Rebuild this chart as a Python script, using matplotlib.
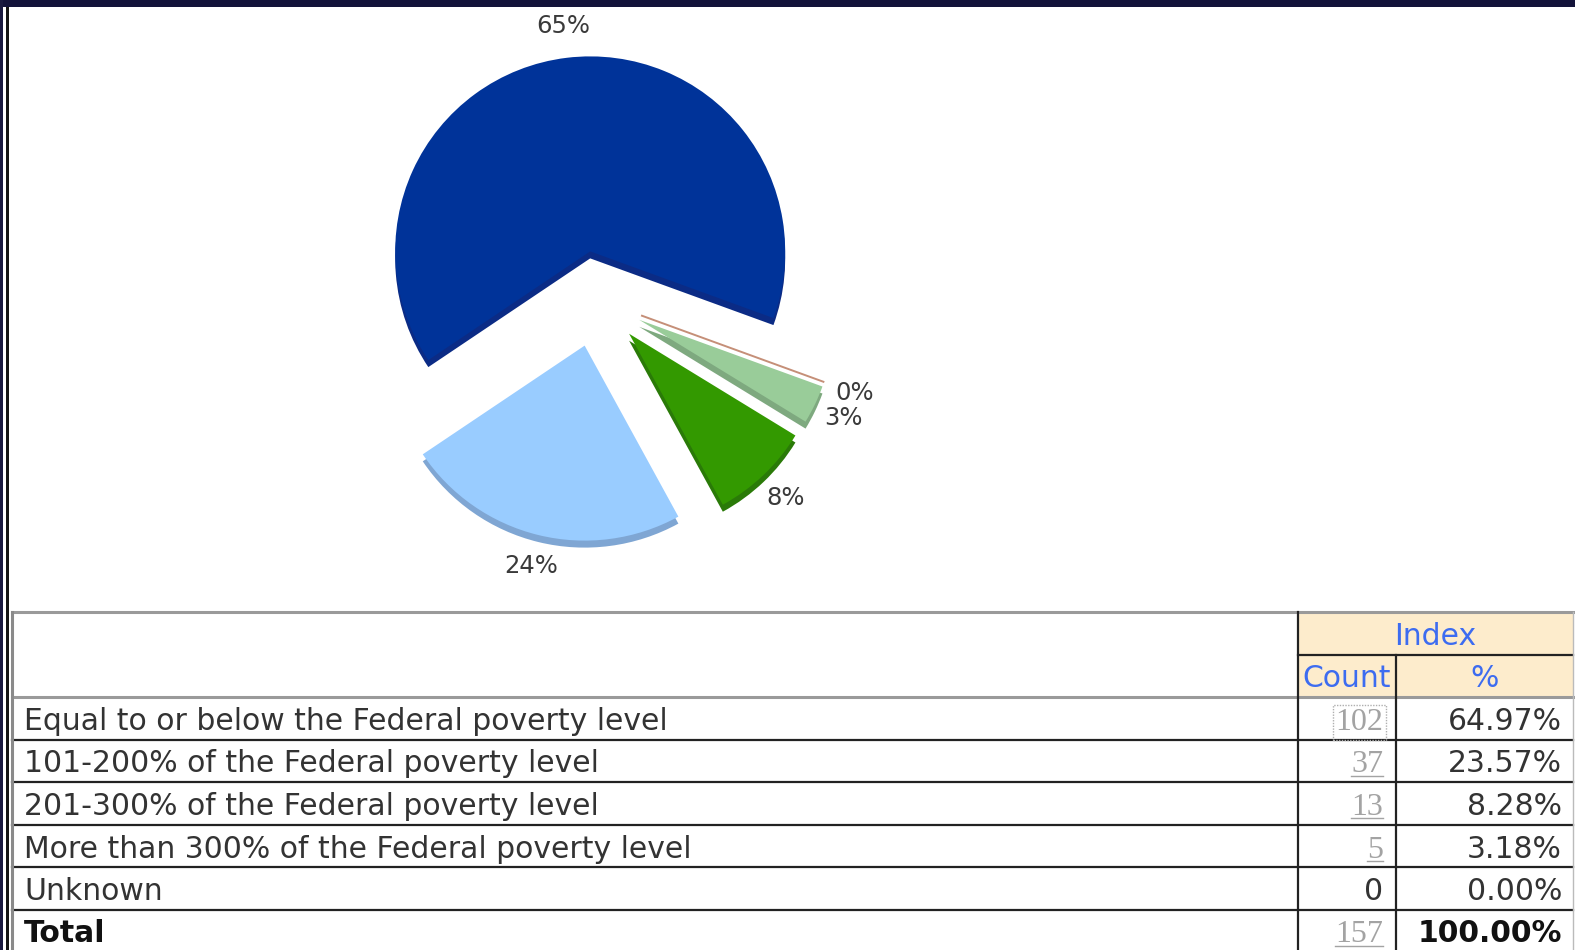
import matplotlib
matplotlib.use("Agg")
import matplotlib.pyplot as plt
from matplotlib.patches import Rectangle

# ---- data -------------------------------------------------------------
categories = [
    "Equal to or below the Federal poverty level",
    "101-200% of the Federal poverty level",
    "201-300% of the Federal poverty level",
    "More than 300% of the Federal poverty level",
    "Unknown",
]
counts = [102, 37, 13, 5, 0]
percents = [64.97, 23.57, 8.28, 3.18, 0.00]
total_label = "Total"
total_count = 157
total_percent = 100.00
header_group = "Index"
header_cols = ["Count", "%"]

# ---- styling ----------------------------------------------------------
W, H = 1575, 950
slice_colors = ["#003399", "#99CCFF", "#339900", "#99CC99", "#F2E6B8"]
rim_colors = ["#0B2B85", "#7FA6D3", "#2A7A08", "#7EA97F", "#F2E6B8"]
text_dark = "#333333"
link_grey = "#A3A3A3"
head_blue = "#3D6CF0"
head_fill = "#FDECCC"

fig = plt.figure(figsize=(W / 100, H / 100), dpi=100)
fig.patch.set_facecolor("white")

# full-page axes in pixel units (y grows downward)
ax = fig.add_axes([0, 0, 1, 1])
ax.set_xlim(0, W)
ax.set_ylim(H, 0)
ax.axis("off")

# window frame
ax.add_patch(Rectangle((0, 0), W, 7, color="#13133A", lw=0, zorder=5))
ax.add_patch(Rectangle((0, 0), 3, H, color="#1A1A40", lw=0, zorder=5))
ax.add_patch(Rectangle((5.5, 7), 3.5, H, color="#151515", lw=0, zorder=5))

# ---- pie --------------------------------------------------------------
cx, cy, R = 596, 299, 195          # pie centre / radius in pixels
L = 1.6                            # half-extent of pie axes in radius units
half = L * R
pax = fig.add_axes([(cx - half) / W, (H - cy - half) / H, 2 * half / W, 2 * half / H])
pax.patch.set_visible(False)

explode = [0.246] * len(counts)
start = -20

# darker copy slightly lower gives the raised-edge look
rim_w, _ = pax.pie(counts, colors=rim_colors, explode=explode, startangle=start,
                   counterclock=True, radius=1, center=(0, -7 / R),
                   wedgeprops=dict(linewidth=0))
rim_w[-1].set_visible(False)

wedges, _, pct_texts = pax.pie(
    counts, colors=slice_colors, explode=explode, startangle=start,
    counterclock=True, radius=1, autopct="%.0f%%", pctdistance=1.164,
    wedgeprops=dict(linewidth=0),
    textprops=dict(fontsize=17.5, color="#3A3A3A", family="DejaVu Sans"))
wedges[-1].set_edgecolor("#C58F78")
wedges[-1].set_linewidth(1.4)
pax.set_xlim(-L, L)
pax.set_ylim(-L, L)
pax.axis("off")

# ---- table ------------------------------------------------------------
t_left, t_right = 12, 1573
c1, c2 = 1298, 1396
y_top, y_mid, y_head = 612, 655, 697
row_h = 42.5
fs = 21.5
base_off = 33

n_rows = len(categories) + 1
row_tops = [y_head + i * row_h for i in range(n_rows + 1)]

# header fills
ax.add_patch(Rectangle((c1, y_top), t_right - c1, y_head - y_top, color=head_fill, lw=0, zorder=1))

dark_lw = 1.6
grey_lw = 2.2
ax.plot([t_left, t_right], [y_top, y_top], color="#9A9A9A", lw=grey_lw, zorder=3)
ax.plot([t_left, t_right], [y_head, y_head], color="#9A9A9A", lw=grey_lw, zorder=3)
ax.plot([c1, t_right], [y_mid, y_mid], color="#222222", lw=dark_lw, zorder=3)
for yy in row_tops[1:-1]:
    ax.plot([t_left, t_right], [yy, yy], color="#222222", lw=dark_lw, zorder=3)
ax.plot([t_left, t_left], [y_top, H], color="#8A8A8A", lw=grey_lw, zorder=3)
ax.plot([c1, c1], [y_top, H], color="#222222", lw=dark_lw, zorder=3)
ax.plot([c2, c2], [y_mid, H], color="#222222", lw=dark_lw, zorder=3)
ax.plot([t_right, t_right], [y_top, H], color="#BBBBBB", lw=1.0, zorder=3)

# header text
ax.text((c1 + t_right) / 2, y_top + base_off, header_group, ha="center", va="baseline",
        fontsize=fs, color=head_blue, family="DejaVu Sans", zorder=4)
ax.text((c1 + c2) / 2, y_mid + base_off - 1, header_cols[0], ha="center", va="baseline",
        fontsize=fs, color=head_blue, family="DejaVu Sans", zorder=4)
ax.text((c2 + t_right) / 2, y_mid + base_off - 1, header_cols[1], ha="center", va="baseline",
        fontsize=fs, color=head_blue, family="DejaVu Sans", zorder=4)

count_x = 1383
pct_x = 1562
underlined = []

for i, (cat, cnt, pct) in enumerate(zip(categories, counts, percents)):
    yb = row_tops[i] + base_off
    ax.text(24, yb, cat, ha="left", va="baseline", fontsize=fs, color=text_dark,
            family="DejaVu Sans", zorder=4)
    if cnt > 0:
        kw = {}
        if i == 0:
            kw["bbox"] = dict(boxstyle="square,pad=0.08", fill=False, ec="#AFAFAF",
                              ls=(0, (1, 1)), lw=1.0)
        t = ax.text(count_x, yb, str(cnt), ha="right", va="baseline", fontsize=fs + 1.5,
                    color=link_grey, family="Liberation Serif", zorder=4, **kw)
        if i != 0:
            underlined.append((t, yb))
    else:
        ax.text(count_x, yb, str(cnt), ha="right", va="baseline", fontsize=fs,
                color=text_dark, family="DejaVu Sans", zorder=4)
    ax.text(pct_x, yb, f"{pct:.2f}%", ha="right", va="baseline", fontsize=fs,
            color=text_dark, family="DejaVu Sans", zorder=4)

yb = row_tops[len(categories)] + base_off
ax.text(24, yb, total_label, ha="left", va="baseline", fontsize=fs, color="#111111",
        fontweight="bold", family="DejaVu Sans", zorder=4)
t = ax.text(count_x, yb, str(total_count), ha="right", va="baseline", fontsize=fs + 1.5,
            color=link_grey, family="Liberation Serif", zorder=4)
underlined.append((t, yb))
ax.text(pct_x, yb, f"{total_percent:.2f}%", ha="right", va="baseline", fontsize=fs,
        color="#111111", fontweight="bold", family="DejaVu Sans", zorder=4)

# underline the linked counts
fig.canvas.draw()
rend = fig.canvas.get_renderer()
inv = ax.transData.inverted()
for t, yb in underlined:
    bb = t.get_window_extent(rend)
    x0, _ = inv.transform((bb.x0, bb.y0))
    x1, _ = inv.transform((bb.x1, bb.y0))
    ax.plot([x0, x1], [yb + 3, yb + 3], color=link_grey, lw=1.0, zorder=4)

fig.savefig("out.png", dpi=100, facecolor="white")
